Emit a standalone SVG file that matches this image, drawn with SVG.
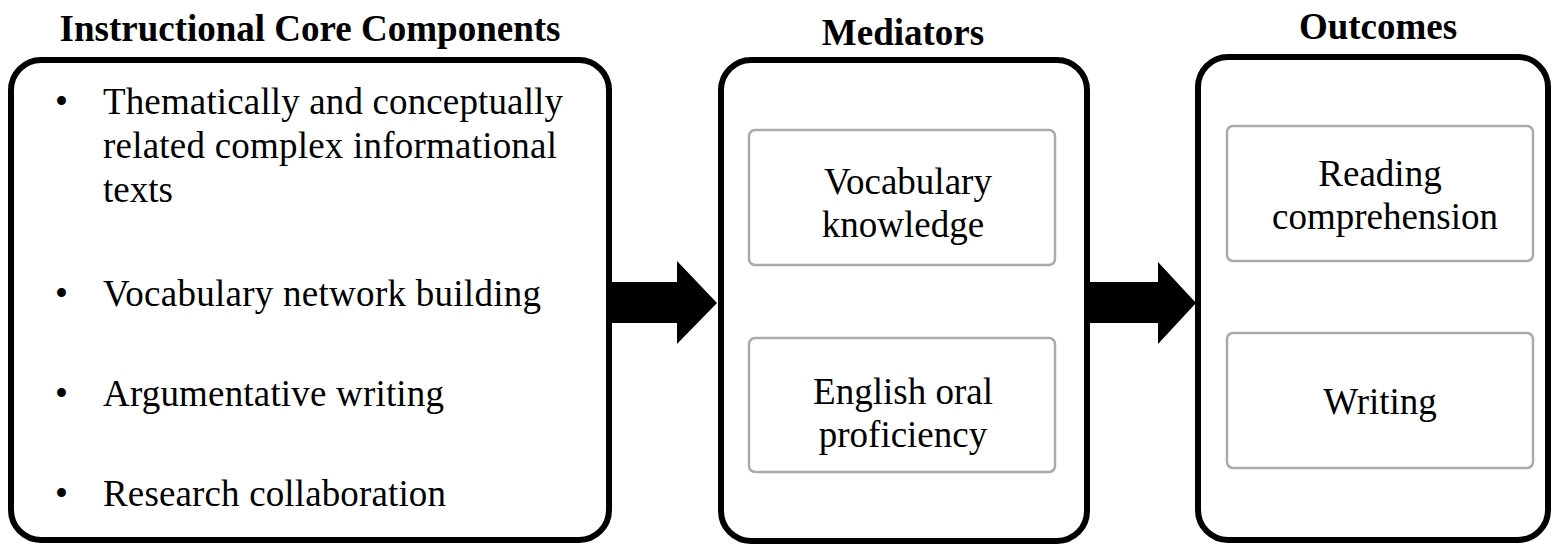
<svg xmlns="http://www.w3.org/2000/svg" width="1553" height="545" viewBox="0 0 1553 545">
<style>
.outer{fill:#fff;stroke:#000;stroke-width:6}
.inner{fill:#fff;stroke:#aaa;stroke-width:2.5}
.title{font-family:"Liberation Serif","Times New Roman",serif;font-weight:bold;font-size:37px;fill:#000;text-anchor:middle}
.t{font-family:"Liberation Serif","Times New Roman",serif;font-size:37px;fill:#000}
.c{text-anchor:middle}
.arrow{fill:#000}
</style>
<g id="titles">
<text class="title" x="310" y="41">Instructional Core Components</text>
<text class="title" x="903" y="45">Mediators</text>
<text class="title" x="1378" y="39">Outcomes</text>
</g>
<g id="core">
<rect class="outer" x="11" y="60" width="598" height="480" rx="30"/>
<text class="t" x="55" y="114">•</text><text class="t" x="103" y="114" textLength="460" lengthAdjust="spacing">Thematically and conceptually</text>
<text class="t" x="103" y="158" textLength="454" lengthAdjust="spacing">related complex informational</text>
<text class="t" x="103" y="202">texts</text>
<text class="t" x="55" y="306">•</text><text class="t" x="103" y="306" textLength="438" lengthAdjust="spacing">Vocabulary network building</text>
<text class="t" x="55" y="406">•</text><text class="t" x="103" y="406" textLength="341" lengthAdjust="spacing">Argumentative writing</text>
<text class="t" x="55" y="506">•</text><text class="t" x="103" y="506" textLength="343" lengthAdjust="spacing">Research collaboration</text>
</g>
<g id="mediators">
<rect class="outer" x="721" y="60" width="366" height="481" rx="30"/>
</g>
<g id="vocab">
<rect class="inner" x="749" y="130" width="306" height="135" rx="6"/>
<text class="t c" x="908" y="194">Vocabulary</text>
<text class="t c" x="903" y="237">knowledge</text>
</g>
<g id="oral">
<rect class="inner" x="749" y="338" width="306" height="134" rx="6"/>
<text class="t c" x="903" y="404">English oral</text>
<text class="t c" x="903" y="447">proficiency</text>
</g>
<g id="outcomes">
<rect class="outer" x="1198" y="57" width="350" height="483" rx="30"/>
</g>
<g id="reading">
<rect class="inner" x="1227" y="126" width="306" height="135" rx="6"/>
<text class="t c" x="1380" y="186">Reading</text>
<text class="t c" x="1385" y="229">comprehension</text>
</g>
<g id="writing">
<rect class="inner" x="1227" y="333" width="306" height="135" rx="6"/>
<text class="t c" x="1380" y="414">Writing</text>
</g>
<g id="connectors">
<polygon class="arrow" points="612,282 677,282 677,261 717,303 677,344 677,323 612,323"/>
<polygon class="arrow" points="1090,282 1158,282 1158,262 1196,303 1158,344 1158,323 1090,323"/>
</g>
</svg>
